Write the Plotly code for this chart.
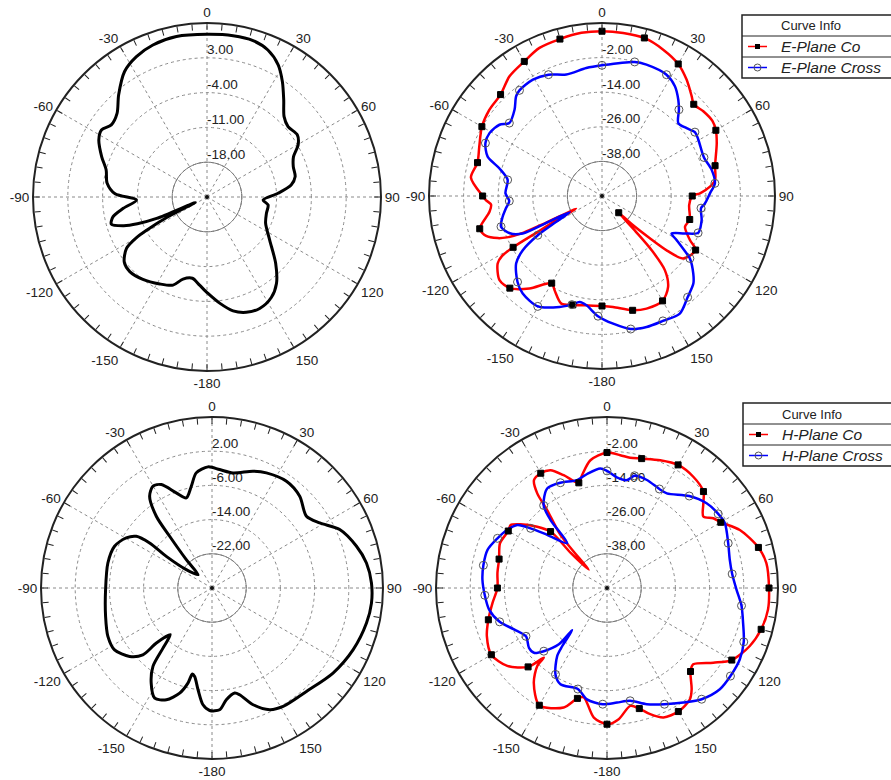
import plotly.graph_objects as go

FONT = "Liberation Sans, Arial, sans-serif"
W, H = 891, 780

# ---------------- E-plane total gain (dB), black curve ----------------
E_TOTAL_THETA = [-175.2, -169.8, -163.7, -158.9, -151.5, -142.1, -134, -128.3, -122.5, -120,
                 -118.7, -117, -115, -113, -111, -109, -105.8, -101.8, -97.7, -92.4,
                 -88, -82, -75, -69, -62.2, -57.6, -53, -47.1, -40.9, -33.3,
                 -26.7, -19.6, -10.8, 0, 9.2, 16.4, 22.5, 28.3, 33.2, 38.3,
                 43.8, 49, 55.5, 60.3, 65, 70.6, 77, 81.9, 87, 93,
                 97.5, 105.4, 114, 124.5, 134, 141.2, 147.4, 154.7, 161.2, 167.1,
                 173.2, 179.4]
E_TOTAL_GAIN = [-7.2, -8.4, -7.8, -6.0, -5.1, -4.0, -3.4, -3.8, -5.8, -8.5,
                -11.5, -16.0, -22.4, -14.0, -10.0, -7.3, -5.0, -5.7, -8.0, -10.8,
                -6.5, -4.7, -4.0, -2.3, -0.4, 0.15, -0.9, -0.3, 2.15, 5.2,
                6.6, 7.45, 7.85, 7.72, 7.86, 7.8, 7.0, 5.2, 2.7, -0.1,
                -2.6, -3.4, -2.95, -3.9, -5.8, -6.6, -6.8, -7.9, -10.7, -13.7,
                -12.6, -12.6, -12.1, -9.7, -5.8, -2.7, -1.0, -0.2, -0.5, -1.5,
                -3.5, -5.6]

# ---------------- E-plane co-polar gain (dB) ----------------
E_CO_THETA = [-180, -171.9, -165, -159.3, -153.3, -150, -141.9, -135, -129.4, -122.9,
              -121, -120, -119.2, -118, -116.2, -115.5, -115, -113.5, -112, -109,
              -105, -98, -94.5, -92, -90, -82, -75, -68, -60, -52.6,
              -45, -37.7, -30, -22.9, -15, -7.2, 0, 7.4, 15, 22.7,
              30, 36, 42, 45, 50.1, 55.8, 60, 65.3, 75, 82,
              85, 88.4, 90, 96, 105, 110.4, 116.6, 120, 127.6, 130,
              131.5, 133.5, 135, 136.5, 137.5, 139.7, 144, 150, 158.4, 165,
              174.3]
E_CO_GAIN = [-11.85, -11.7, -10.9, -10.1, -13.4, -15.1, -9.2, -4.8, -4.0, -6.9,
             -9.5, -14.4, -24.0, -32.0, -40.0, -28.0, -20.0, -14.0, -11.0, -7.5,
             -6.1, -10.6, -11.4, -9.7, -8.6, -4.1, -5.3, -4.1, -1.9, -0.8,
             -0.25, 2.45, 3.9, 5.75, 6.35, 7.04, 7.15, 7.04, 6.75, 5.0,
             2.87, -0.1, -3.5, -5.0, -4.2, -3.7, -4.4, -6.2, -9.4, -10.4,
             -12.4, -16.0, -18.7, -19.6, -18.5, -19.3, -15.9, -12.5, -14.5, -20.4,
             -28.0, -36.0, -41.8, -33.0, -24.5, -16.3, -11.0, -8.0, -8.0, -8.96,
             -11.3]
E_CO_MARKS = [-180, -165, -150, -135, -120, -105, -90, -75, -60, -45, -30, -15,
              0, 15, 30, 45, 60, 75, 90, 105, 120, 135, 150, 165]

# ---------------- E-plane cross-polar gain (dB) ----------------
E_CROSS_THETA = [-178.1, -171.9, -168.1, -164.5, -159.1, -149.8, -140.9, -135.5, -128.2, -124.4,
                 -121.4, -119.4, -116.5, -115.8, -115.3, -112, -106.9, -101.8, -97.3, -93.1,
                 -88.4, -80.3, -74.9, -71, -65.6, -60.8, -55.2, -51.8, -45.4, -40.8,
                 -38, -30.7, -23.8, -16.4, -7, 0, 13.7, 18.7, 28, 33.6,
                 38.4, 41.7, 46.3, 51.3, 55.5, 59.7, 69.3, 76.6, 83.6, 88.6,
                 94.1, 97, 103.6, 111, 114.3, 118.3, 120.6, 124.2, 125.4, 130.3,
                 133.8, 139.8, 146.5, 154, 161.2, 167.8, 175]
E_CROSS_GAIN = [-8.3, -11.7, -12.4, -10.9, -8.8, -5.7, -6.4, -8.2, -12.1, -16.7,
                -23.9, -31.8, -37.5, -28.0, -19.6, -15.5, -13.4, -14.8, -16.4, -17.8,
                -16.5, -16.8, -13.1, -8.05, -5.6, -5.3, -6.7, -9.1, -7.4, -4.4,
                -3.5, -3.05, -4.0, -6.1, -5.3, -4.67, -2.14, -1.9, -2.35, -4.3,
                -7.4, -9.9, -13.4, -12.4, -10.9, -11.3, -12.2, -10.9, -10.6, -12.55,
                -14.2, -15.4, -14.45, -14.3, -18.45, -22.6, -19.9, -14.5, -12.6, -8.5,
                -6.1, -4.0, -1.1, -1.8, -2.0, -2.8, -5.55]
E_CROSS_MARKS = [-178.1, -164.5, -149.8, -135.5, -121.4, -106.9, -93.1, -80.3, -65.6, -51.8,
                 -38, -23.8, 0, 13.7, 28, 41.7, 55.5, 69.3, 83.6, 97, 111, 125.4, 139.8,
                 154, 167.8]

# ---------------- H-plane total gain (dB), black curve ----------------
H_TOTAL_THETA = [-1.9, 3.7, 10.3, 19.4, 25.3, 34.9, 43.7, 52.8, 58.9, 65.4,
                 73.9, 80.8, 88.2, 95.4, 102.8, 113.6, 125.1, 137.6, 149, 154.6,
                 160.6, 165.5, 167.8, 172.7, 176.4, -178.9, -175.6, -172.2, -168.9, -167.1,
                 -165.8, -162.9, -157.8, -152.5, -147.4, -143, -140.8, -138.2, -134.7, -134,
                 -129.7, -122.4, -114.9, -104.9, -90.9, -76.5, -66.8, -59.7, -55.7, -54.2,
                 -55.3, -54.5, -46.4, -42.2, -39.3, -37.8, -34.2, -30.1, -26.1, -20.6,
                 -15.9, -11.5, -7.8]
H_TOTAL_GAIN = [-1.65, -2.24, -2.63, -1.04, -0.22, 0.44, -0.3, -2.26, -0.55, 2.86,
                5.18, 6.6, 7.32, 7.47, 7.06, 6.04, 4.6, 2.76, 2.31, 1.5,
                -1.04, -4.2, -4.85, -3.64, -1.46, -1.35, -2.6, -5.97, -8.9, -9.34,
                -7.05, -4.27, -1.75, -0.96, -3.6, -7.05, -11.86, -15.35, -11.7, -7.5,
                -4.95, -3.0, -3.15, -4.24, -5.1, -4.95, -5.2, -6.77, -8.55, -12.0,
                -17.0, -22.6, -25.5, -21.05, -14.36, -8.75, -4.04, -2.48, -3.05, -6.24,
                -8.08, -5.71, -2.82]

# ---------------- H-plane co-polar gain (dB) ----------------
H_CO_THETA = [-180, -174.2, -168, -165, -160.1, -150, -142.3, -138.2, -137.8, -135,
              -128, -120, -111.8, -105, -97.4, -90, -82.2, -75, -67.3, -60,
              -56.8, -53.6, -48.7, -45, -46, -45.2, -41.2, -37.5, -36.4, -34.1,
              -30, -25.6, -21, -15, -12.4, -7.4, 0, 5.7, 10.1, 15,
              22.6, 30, 37.8, 45, 48.7, 53.4, 56.7, 60, 66.4, 75,
              81.1, 90, 97.6, 105, 112.1, 120, 125.1, 131.5, 135, 140.1,
              143.3, 150, 156.4, 161.1, 165, 168.8, 174.9]
H_CO_GAIN = [-2.2, -4.3, -10.8, -9.9, -5.4, -2.5, -8.0, -13.3, -17.0, -10.85,
             -5.6, -3.15, -4.6, -6.9, -9.5, -11.55, -11.2, -10.8, -9.3, -10.0,
             -9.6, -12.3, -17.4, -22.0, -32.3, -40.9, -25.2, -15.5, -8.75, -4.3,
             -3.5, -4.15, -7.6, -11.8, -9.4, -4.8, -2.47, -3.17, -3.6, -3.0,
             -1.43, -0.12, -0.6, -2.14, -5.0, -7.9, -5.4, -3.9, 0.86, 5.0,
             6.6, 6.85, 7.0, 6.0, 4.08, 0.56, -4.4, -9.6, -8.56, -3.7,
             -1.3, 0.06, -0.44, -3.2, -6.2, -7.85, -3.8]
H_CO_MARKS = [-180, -165, -150, -135, -120, -105, -90, -75, -60, -45, -30, -15,
              0, 15, 30, 45, 60, 75, 90, 105, 120, 135, 150, 165]

# ---------------- H-plane cross-polar gain (dB) ----------------
H_CROSS_THETA = [-177.9, -169.8, -163.9, -154.2, -149.2, -143.8, -142.4, -140.5, -139.5, -135,
                 -131.6, -127.5, -120.8, -114, -107.5, -100.4, -93.4, -86.2, -79.6, -72.3,
                 -65.6, -59.7, -54.9, -52, -48.4, -41.6, -39.7, -37.5, -31, -23.9,
                 -15.5, -9.9, -3.2, 0, 5.1, 10.5, 13.8, 20.3, 27.9, 32.3,
                 41.8, 49.6, 56.3, 61.2, 69.7, 77.1, 83.6, 90.7, 97.5, 104.4,
                 111.5, 118.3, 125.5, 131.9, 139.6, 146.3, 153.7, 161.1, 168.4, 175]
H_CROSS_GAIN = [-9.2, -10.3, -13.1, -12.5, -14.7, -20.4, -24.2, -30.8, -24.0, -18.65,
                -15.75, -15.5, -16.9, -14.3, -10.5, -7.95, -7.05, -6.2, -5.9, -6.0,
                -7.8, -9.5, -11.55, -16.0, -21.9, -29.0, -19.0, -13.5, -9.25, -9.6,
                -10.7, -9.4, -8.0, -8.9, -11.05, -11.5, -9.45, -9.6, -10.7, -10.7,
                -6.7, -4.1, -3.1, -2.8, -4.66, -5.8, -5.8, -4.56, -2.4, -0.7,
                1.57, 2.9, 3.2, 3.2, 1.24, -1.7, -4.5, -6.9, -9.6, -9.66]
H_CROSS_MARKS = [-177.9, -163.9, -149.2, -135, -120.8, -107.5, -93.4, -79.6, -65.6, -52,
                 -37.5, -23.9, 0, 13.8, 27.9, 41.8, 56.3, 69.7, 83.6, 97.5, 111.5, 125.5,
                 139.6, 153.7, 168.4]

# ---------------- radial scales ----------------
E_TOTAL_RANGE, E_TOTAL_TICKS = [-25, 10], [-18, -11, -4, 3]
E_POL_RANGE, E_POL_TICKS = [-50, 10], [-38, -26, -14, -2]
H_TOTAL_RANGE, H_TOTAL_TICKS = [-30, 10], [-22, -14, -6, 2]
H_POL_RANGE, H_POL_TICKS = [-50, 10], [-38, -26, -14, -2]

LEGEND_TITLE = "Curve Info"
E_NAMES = ["E-Plane Co", "E-Plane Cross"]
H_NAMES = ["H-Plane Co", "H-Plane Cross"]

CO_COLOR = "#ff0000"
CROSS_COLOR = "#0000ff"
GRID = "#8a8a8a"

# subplot name -> (centre x px, centre y px, radius px)
PANELS = {
    "polar": (207, 197, 174),
    "polar2": (602, 196, 173),
    "polar3": (212, 588, 171),
    "polar4": (607, 588, 171),
}


def closed(seq):
    return list(seq) + [seq[0]]


def pick(theta, gain, marks):
    idx = [theta.index(m) for m in marks]
    return [theta[i] for i in idx], [gain[i] for i in idx]


def angle_label(a):
    if a % 30:
        return ""
    return str(a if a < 180 else a - 360)


def polar_layout(name, rng, ticks):
    cx, cy, r = PANELS[name]
    return dict(
        domain=dict(x=[(cx - r) / W, (cx + r) / W],
                    y=[(H - cy - r) / H, (H - cy + r) / H]),
        bgcolor="rgba(0,0,0,0)",
        angularaxis=dict(
            direction="clockwise", rotation=90,
            tickmode="array",
            tickvals=list(range(0, 360, 5)),
            ticktext=[angle_label(a) for a in range(0, 360, 5)],
            ticks="inside", ticklen=6, tickwidth=1, tickcolor="#222",
            showline=True, linecolor="#222", linewidth=2,
            showgrid=False,
            tickfont=dict(family=FONT, size=13.5, color="#222"),
        ),
        radialaxis=dict(
            range=rng, tickmode="array", tickvals=ticks,
            angle=90, showticklabels=False,
            showline=False, ticks="",
            showgrid=True, gridcolor=GRID, griddash="dot", gridwidth=1,
        ),
    )


fig = go.Figure()


def add_frame(subplot, rng, ticks):
    # dotted spokes every 30 degrees
    th, rr = [], []
    for a in range(0, 360, 30):
        th += [a, a, None]
        rr += [rng[0], rng[1], None]
    fig.add_trace(go.Scatterpolar(theta=th, r=rr, mode="lines", subplot=subplot,
                                  line=dict(color=GRID, width=1, dash="dot"),
                                  hoverinfo="skip", showlegend=False, connectgaps=False))
    # solid innermost ring
    ring = list(range(0, 361, 3))
    fig.add_trace(go.Scatterpolar(theta=ring, r=[ticks[0]] * len(ring), mode="lines",
                                  subplot=subplot, line=dict(color="#777", width=1),
                                  hoverinfo="skip", showlegend=False))
    # centre dot
    fig.add_trace(go.Scatterpolar(theta=[0], r=[rng[0]], mode="markers", subplot=subplot,
                                  marker=dict(color="#111", size=4),
                                  hoverinfo="skip", showlegend=False))


def add_rlabels(subplot, ticks):
    # gain labels sitting on their rings along the 0-degree spoke
    fig.add_trace(go.Scatterpolar(theta=[0] * len(ticks), r=ticks, mode="text", subplot=subplot,
                                  text=[f"{v:.2f}" for v in ticks], textposition="top right",
                                  textfont=dict(family=FONT, size=13.5, color="#222"),
                                  hoverinfo="skip", showlegend=False, cliponaxis=False))


def add_curve(subplot, theta, gain, color, width):
    fig.add_trace(go.Scatterpolar(theta=closed(theta), r=closed(gain), mode="lines",
                                  subplot=subplot,
                                  line=dict(color=color, width=width, shape="spline", smoothing=0.8),
                                  hoverinfo="skip", showlegend=False))


def add_marks(subplot, theta, gain, marks, symbol, size, fill, edge):
    mt, mg = pick(theta, gain, marks)
    fig.add_trace(go.Scatterpolar(theta=mt, r=mg, mode="markers", subplot=subplot,
                                  marker=dict(symbol=symbol, size=size, color=fill,
                                              line=dict(color=edge, width=1)),
                                  hoverinfo="skip", showlegend=False))


# top-left: E-plane total
add_frame("polar", E_TOTAL_RANGE, E_TOTAL_TICKS)
add_rlabels("polar", E_TOTAL_TICKS)
add_curve("polar", E_TOTAL_THETA, E_TOTAL_GAIN, "#000", 3)

# top-right: E-plane co / cross
add_frame("polar2", E_POL_RANGE, E_POL_TICKS)
add_rlabels("polar2", E_POL_TICKS)
add_curve("polar2", E_CO_THETA, E_CO_GAIN, CO_COLOR, 2.5)
add_curve("polar2", E_CROSS_THETA, E_CROSS_GAIN, CROSS_COLOR, 2.5)
add_marks("polar2", E_CO_THETA, E_CO_GAIN, E_CO_MARKS, "square", 6, "#000", "#000")
add_marks("polar2", E_CROSS_THETA, E_CROSS_GAIN, E_CROSS_MARKS, "circle-open", 8, "#555", "#555")

# bottom-left: H-plane total
add_frame("polar3", H_TOTAL_RANGE, H_TOTAL_TICKS)
add_rlabels("polar3", H_TOTAL_TICKS)
add_curve("polar3", H_TOTAL_THETA, H_TOTAL_GAIN, "#000", 3)

# bottom-right: H-plane co / cross
add_frame("polar4", H_POL_RANGE, H_POL_TICKS)
add_rlabels("polar4", H_POL_TICKS)
add_curve("polar4", H_CO_THETA, H_CO_GAIN, CO_COLOR, 2.5)
add_curve("polar4", H_CROSS_THETA, H_CROSS_GAIN, CROSS_COLOR, 2.5)
add_marks("polar4", H_CO_THETA, H_CO_GAIN, H_CO_MARKS, "square", 6, "#000", "#000")
add_marks("polar4", H_CROSS_THETA, H_CROSS_GAIN, H_CROSS_MARKS, "circle-open", 8, "#555", "#555")


# ---------------- "Curve Info" boxes ----------------
def px(x):
    return x / W


def py(y):
    return 1 - y / H


shapes, annotations = [], []


def curve_info(left, top, names):
    rows = [top, top + 21, top + 42, top + 63]
    right = W + 5
    shapes.append(dict(type="rect", xref="paper", yref="paper",
                       x0=px(left), x1=px(right), y0=py(rows[3]), y1=py(rows[0]),
                       line=dict(color="#222", width=1.5), fillcolor="white", layer="above"))
    for yy in rows[1:3]:
        shapes.append(dict(type="line", xref="paper", yref="paper",
                           x0=px(left), x1=px(right), y0=py(yy), y1=py(yy),
                           line=dict(color="#222", width=1), layer="above"))
    annotations.append(dict(text=LEGEND_TITLE, xref="paper", yref="paper",
                            x=px(left + 69), y=py(rows[0] + 11), xanchor="center", yanchor="middle",
                            showarrow=False, font=dict(family=FONT, size=13, color="#222")))
    styles = [(CO_COLOR, "square"), (CROSS_COLOR, "circle")]
    for k, (name, (col, sym)) in enumerate(zip(names, styles)):
        yc = rows[k + 1] + 10.5
        shapes.append(dict(type="line", xref="paper", yref="paper",
                           x0=px(left + 6), x1=px(left + 25), y0=py(yc), y1=py(yc),
                           line=dict(color=col, width=1.5), layer="above"))
        if sym == "square":
            shapes.append(dict(type="rect", xref="paper", yref="paper",
                               x0=px(left + 13), x1=px(left + 18), y0=py(yc + 2.5), y1=py(yc - 2.5),
                               line=dict(color="#000", width=0), fillcolor="#000", layer="above"))
        else:
            shapes.append(dict(type="circle", xref="paper", yref="paper",
                               x0=px(left + 12), x1=px(left + 19), y0=py(yc + 3.5), y1=py(yc - 3.5),
                               line=dict(color="#555", width=1), layer="above"))
        annotations.append(dict(text=f"<i>{name}</i>", xref="paper", yref="paper",
                                x=px(left + 37), y=py(yc), xanchor="left", yanchor="middle",
                                showarrow=False, font=dict(family=FONT, size=15.5, color="#222")))


curve_info(742, 15, E_NAMES)
curve_info(743, 403, H_NAMES)

fig.update_layout(
    width=W, height=H,
    margin=dict(l=0, r=0, t=0, b=0),
    paper_bgcolor="white", plot_bgcolor="white",
    showlegend=False,
    polar=polar_layout("polar", E_TOTAL_RANGE, E_TOTAL_TICKS),
    polar2=polar_layout("polar2", E_POL_RANGE, E_POL_TICKS),
    polar3=polar_layout("polar3", H_TOTAL_RANGE, H_TOTAL_TICKS),
    polar4=polar_layout("polar4", H_POL_RANGE, H_POL_TICKS),
    shapes=shapes,
    annotations=annotations,
    font=dict(family=FONT),
)

fig.write_html("out.html")
